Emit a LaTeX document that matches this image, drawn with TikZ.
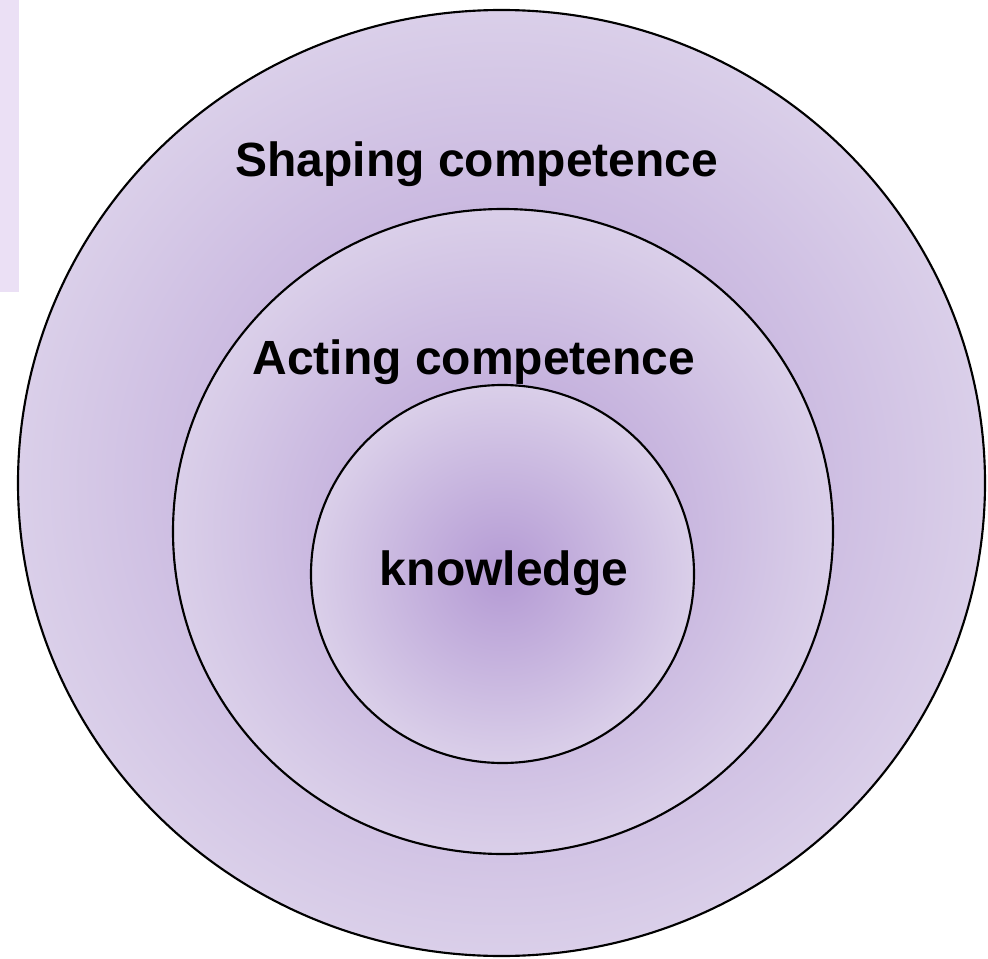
\documentclass[tikz,border=0pt]{standalone}
\usepackage{fontspec}
\setmainfont{Liberation Sans}
\usetikzlibrary{shapes.geometric}
\definecolor{ringin}{RGB}{180,154,212}
\definecolor{ringout}{RGB}{218,207,233}
\definecolor{tabfill}{RGB}{235,224,245}
\pgfdeclareradialshading{ringshade}{\pgfpoint{0bp}{0bp}}{color(0bp)=(ringin); color(25bp)=(ringout); color(50bp)=(ringout)}
\tikzset{
  ring/.style={ellipse, draw=black, line width=1.6pt, shading=ringshade, inner sep=0pt, outer sep=0pt},
  lbl/.style={font=\bfseries\fontsize{36}{43}\selectfont, inner sep=0pt, anchor=base}
}
\begin{document}
\begin{tikzpicture}[x=0.75pt,y=-0.75pt]
\useasboundingbox (0,0) rectangle (988,959);
\fill[tabfill] (0,0) rectangle (19,292);
\node[ring, minimum width=725.25pt, minimum height=709.5pt] (outer) at (501.5,483) {};
\node[ring, minimum width=495pt, minimum height=483.75pt] (middle) at (503,531.5) {};
\node[ring, minimum width=287.25pt, minimum height=283.5pt] (inner) at (502.5,574) {};
\node[lbl] (shaping) at (477,177) {Shaping competence};
\node[lbl] (acting) at (474,374) {Acting competence};
\node[lbl] (know) at (504,585) {knowledge};
\end{tikzpicture}
\end{document}
